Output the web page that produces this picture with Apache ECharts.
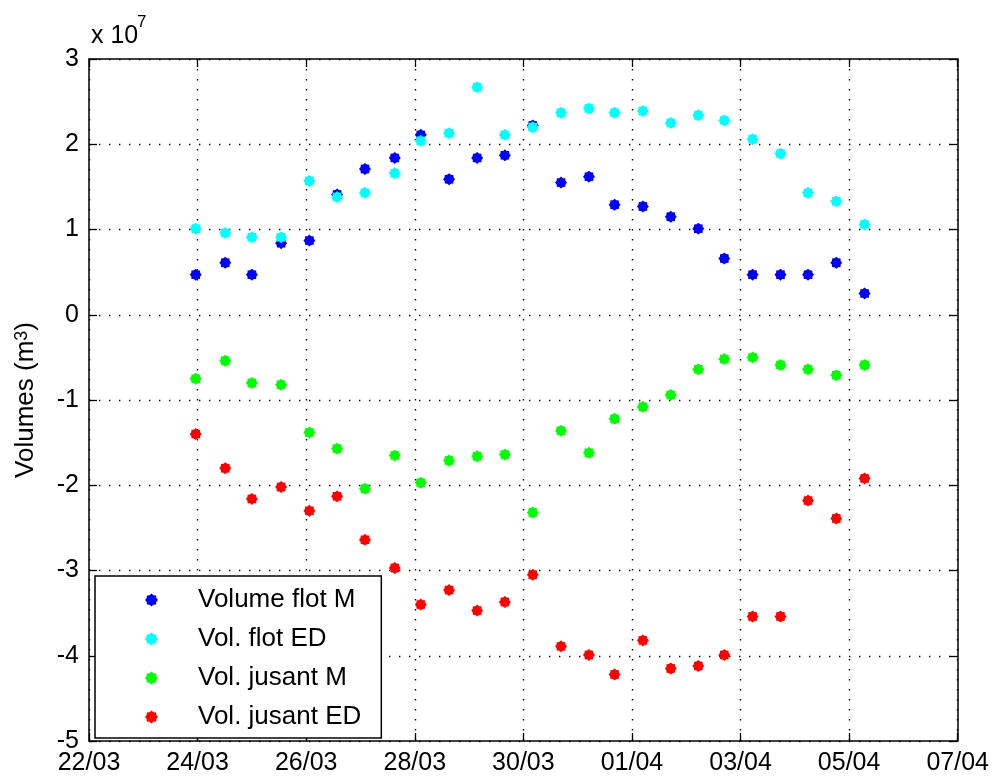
<!DOCTYPE html>
<html>
<head>
<meta charset="utf-8">
<title>Volumes flot / jusant</title>
<script src="https://cdn.jsdelivr.net/npm/echarts@6/dist/echarts.min.js"></script>
<style>
  html, body { margin: 0; padding: 0; background: #fff; }
  #chart { width: 992px; height: 776px; }
</style>
</head>
<body>
<div id="chart"></div>
<script>
// Sampling instants (one per tide), dd/MM HH:mm
const sampleTimes = [
  '23/03 23:10', '24/03 12:15', '25/03 00:00', '25/03 12:55', '26/03 01:25',
  '26/03 13:40', '27/03 02:00', '27/03 15:10', '28/03 02:40', '28/03 15:10',
  '29/03 03:35', '29/03 15:50', '30/03 04:10', '30/03 16:40', '31/03 05:00',
  '31/03 16:20', '01/04 04:50', '01/04 17:10', '02/04 05:20', '02/04 16:50',
  '03/04 05:20', '03/04 17:40', '04/04 05:50', '04/04 18:20', '05/04 06:50'
];

// Volumes in m3
const volumeFlotM = [
  4.7e6, 6.1e6, 4.7e6, 8.4e6, 8.7e6, 14.1e6, 17.1e6, 18.4e6, 21.1e6, 15.9e6,
  18.4e6, 18.7e6, 22.2e6, 15.5e6, 16.2e6, 12.9e6, 12.7e6, 11.5e6, 10.1e6, 6.6e6,
  4.7e6, 4.7e6, 4.7e6, 6.1e6, 2.5e6
];
const volFlotED = [
  10.1e6, 9.6e6, 9.1e6, 9.1e6, 15.7e6, 13.8e6, 14.3e6, 16.6e6, 20.4e6, 21.3e6,
  26.7e6, 21.1e6, 22.0e6, 23.7e6, 24.2e6, 23.7e6, 23.9e6, 22.5e6, 23.4e6, 22.8e6,
  20.6e6, 18.9e6, 14.3e6, 13.3e6, 10.6e6
];
const volJusantM = [
  -7.5e6, -5.4e6, -8.0e6, -8.2e6, -13.8e6, -15.7e6, -20.4e6, -16.5e6, -19.7e6, -17.1e6,
  -16.6e6, -16.4e6, -23.2e6, -13.6e6, -16.2e6, -12.2e6, -10.8e6, -9.4e6, -6.4e6, -5.2e6,
  -5.0e6, -5.9e6, -6.4e6, -7.1e6, -5.9e6
];
const volJusantED = [
  -14.0e6, -18.0e6, -21.6e6, -20.2e6, -23.0e6, -21.3e6, -26.4e6, -29.7e6, -34.0e6, -32.3e6,
  -34.7e6, -33.7e6, -30.5e6, -38.9e6, -39.9e6, -42.2e6, -38.2e6, -41.5e6, -41.2e6, -39.9e6,
  -35.4e6, -35.4e6, -21.8e6, -23.9e6, -19.2e6
];

const seriesNames = ['Volume flot M', 'Vol. flot ED', 'Vol. jusant M', 'Vol. jusant ED'];
const seriesColors = ['#0000ff', '#00ffff', '#00ff00', '#ff0000'];

// Date tick labels, every two days from 22/03
const dateTicks = ['22/03', '24/03', '26/03', '28/03', '30/03', '01/04', '03/04', '05/04', '07/04'];
const yScale = 1e7;

// Convert "dd/MM HH:mm" into days elapsed since 22/03 00:00
function dayOffset(s) {
  const [d, t] = s.split(' ');
  const [dd, mm] = d.split('/').map(Number);
  const [hh, mi] = t.split(':').map(Number);
  const base = mm === 3 ? dd - 22 : dd + 31 - 22;
  return base + hh / 24 + mi / 1440;
}
const xs = sampleTimes.map(dayOffset);

// Filled "dot" marker with small spikes
function starPath(n, inner) {
  let p = '';
  for (let i = 0; i < 2 * n; i++) {
    const a = Math.PI * i / n - Math.PI / 2;
    const r = i % 2 === 0 ? 1 : inner;
    const x = (r * Math.cos(a)).toFixed(4);
    const y = (r * Math.sin(a)).toFixed(4);
    p += (i === 0 ? 'M' : 'L') + x + ' ' + y + ' ';
  }
  return 'path://' + p + 'Z';
}
const marker = starPath(8, 0.8);

const FONT = 'Liberation Sans, Arial, Helvetica, sans-serif';
const dotted = { color: '#000', width: 1.4, type: [1.4, 8.6] };
const tickStyle = { show: true, inside: true, length: 8, lineStyle: { color: '#000', width: 1.3 } };
const boxLine = { show: true, onZero: false, lineStyle: { color: '#000', width: 1.5 } };

const xBase = { type: 'value', min: 0, max: 16, interval: 2 };
const yBase = { type: 'value', min: -5 * yScale, max: 3 * yScale, interval: yScale };

const chart = echarts.init(document.getElementById('chart'), null, { renderer: 'canvas' });
chart.setOption({
  backgroundColor: '#fff',
  animation: false,
  grid: { left: 89, right: 32, top: 59, bottom: 33, containLabel: false },
  xAxis: [
    Object.assign({}, xBase, {
      position: 'bottom',
      axisLine: boxLine,
      axisTick: tickStyle,
      axisLabel: {
        margin: 10, color: '#000', fontFamily: FONT, fontSize: 25,
        showMinLabel: true, showMaxLabel: true, hideOverlap: false,
        formatter: v => dateTicks[Math.round(v / 2)]
      },
      splitLine: { show: true, lineStyle: dotted }
    }),
    Object.assign({}, xBase, {
      position: 'top',
      axisLine: boxLine,
      axisTick: tickStyle,
      axisLabel: { show: false },
      splitLine: { show: false }
    })
  ],
  yAxis: [
    Object.assign({}, yBase, {
      position: 'left',
      name: '{a|Volumes (m}{s|3}{a|)}',
      nameLocation: 'middle',
      nameRotate: 90,
      nameGap: 50,
      nameTextStyle: {
        rich: {
          a: { fontFamily: FONT, fontSize: 26, color: '#000' },
          s: { fontFamily: FONT, fontSize: 18, color: '#000', verticalAlign: 'top' }
        }
      },
      axisLine: boxLine,
      axisTick: tickStyle,
      axisLabel: {
        margin: 10, color: '#000', fontFamily: FONT, fontSize: 25,
        formatter: v => String(Math.round(v / yScale))
      },
      splitLine: { show: true, lineStyle: dotted }
    }),
    Object.assign({}, yBase, {
      position: 'right',
      axisLine: boxLine,
      axisTick: tickStyle,
      axisLabel: { show: false },
      splitLine: { show: false }
    })
  ],
  legend: {
    orient: 'vertical',
    left: 95,
    top: 576,
    padding: [11, 20, 8, 50],
    itemGap: 13,
    itemWidth: 13,
    itemHeight: 13,
    backgroundColor: '#fff',
    borderColor: '#000',
    borderWidth: 1.5,
    borderRadius: 0,
    selectedMode: false,
    textStyle: {
      fontFamily: FONT, fontSize: 26, color: '#000', lineHeight: 25,
      padding: [0, 0, 0, 35]
    },
    data: seriesNames
  },
  graphic: [
    { type: 'text', x: 91, y: 36.5, style: { text: 'x 10', font: '25px ' + FONT, fill: '#000', verticalAlign: 'middle' } },
    { type: 'text', x: 137, y: 22, style: { text: '7', font: '17px ' + FONT, fill: '#000', verticalAlign: 'middle' } }
  ],
  series: [volumeFlotM, volFlotED, volJusantM, volJusantED].map((vals, i) => ({
    name: seriesNames[i],
    type: 'scatter',
    xAxisIndex: 0,
    yAxisIndex: 0,
    symbol: marker,
    symbolSize: 12,
    itemStyle: { color: seriesColors[i], opacity: 1 },
    emphasis: { disabled: true },
    data: vals.map((v, k) => [xs[k], v])
  }))
});
</script>
</body>
</html>
